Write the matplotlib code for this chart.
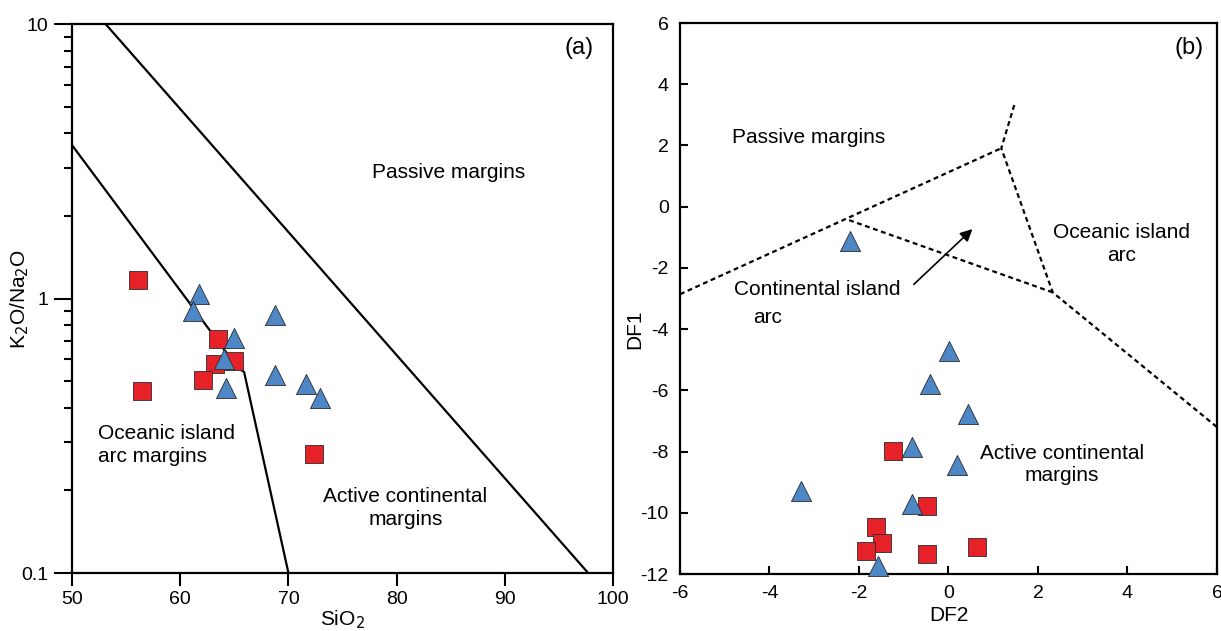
import numpy as np
import matplotlib.pyplot as plt
from matplotlib.ticker import LogLocator, NullFormatter, FixedLocator

plt.rcParams['font.family'] = ['Liberation Sans', 'DejaVu Sans']
plt.rcParams['axes.unicode_minus'] = False

# ── Panel (a) data: SiO2 vs K2O/Na2O ───────────────────────────
sq_sio2 = [56.1, 63.5, 63.2, 65.0, 62.1, 56.5, 72.4]
sq_ratio = [1.17, 0.715, 0.579, 0.594, 0.506, 0.462, 0.272]
tri_sio2 = [61.7, 61.2, 68.8, 65.0, 64.0, 68.8, 64.2, 71.6, 72.9]
tri_ratio = [1.04, 0.904, 0.874, 0.72, 0.604, 0.528, 0.474, 0.489, 0.435]

# boundary lines (a)
pm_x = [53.1, 97.7]
pm_y = [10.0, 0.1]
oi_x = [50.0, 65.3, 65.9, 70.0]
oi_y = [3.62, 0.56, 0.54, 0.1]

# ── Panel (b) data: DF2 vs DF1 ─────────────────────────────────
b_sq_df2 = [-1.24, -0.49, -1.62, -1.49, -1.84, -0.47, 0.64]
b_sq_df1 = [-7.99, -9.79, -10.47, -11.0, -11.26, -11.36, -11.13]
b_tri_df2 = [-2.2, 0.02, -0.42, 0.44, -0.82, 0.2, -0.82, -1.58, -3.3]
b_tri_df1 = [-1.13, -4.70, -5.80, -6.78, -7.86, -8.45, -9.72, -11.75, -9.30]

# field boundaries (b)
bnd_left = ([-6.0, 1.18], [-2.86, 1.91])
bnd_inner = ([-2.22, 2.33], [-0.44, -2.8])
bnd_top = ([1.47, 1.18, 2.33, 6.0], [3.32, 1.91, -2.8, -7.2])

RED = '#E62228'
BLUE = '#4D87C6'
EDGE = '#2B2B2B'
TXT = 15
TICK = 14
LAB = 15

fig = plt.figure(figsize=(12.21, 6.31), dpi=100)
ax1 = fig.add_axes([0.0590, 0.0919, 0.4431, 0.8700])
ax2 = fig.add_axes([0.5569, 0.0903, 0.4398, 0.8732])

# ── Panel (a) ───────────────────────────────────────────────────
ax1.plot(pm_x, pm_y, color='black', lw=1.6, zorder=2)
ax1.plot(oi_x, oi_y, color='black', lw=1.6, zorder=2)
ax1.scatter(sq_sio2, sq_ratio, marker='s', s=150, c=RED, edgecolors=EDGE,
            linewidths=0.6, zorder=3)
ax1.scatter(tri_sio2, tri_ratio, marker='^', s=210, c=BLUE, edgecolors=EDGE,
            linewidths=0.6, zorder=4)

ax1.set_yscale('log')
ax1.set_xlim(50, 100)
ax1.set_ylim(0.1, 10)
ax1.set_xticks([50, 60, 70, 80, 90, 100])
ax1.yaxis.set_major_locator(FixedLocator([0.1, 1, 10]))
ax1.set_yticklabels(['0.1', '1', '10'])
ax1.yaxis.set_minor_locator(LogLocator(base=10, subs=np.arange(2, 10)))
ax1.yaxis.set_minor_formatter(NullFormatter())
ax1.tick_params(axis='x', which='major', direction='out', length=9,
                width=1.5, labelsize=TICK, pad=4)
ax1.tick_params(axis='y', which='major', direction='out', length=13,
                width=1.5, labelsize=TICK, pad=4)
ax1.tick_params(axis='y', which='minor', direction='out', length=6, width=1.5)
ax1.set_xlabel(r'SiO$_2$', fontsize=LAB, labelpad=0)
ax1.set_ylabel(r'K$_2$O/Na$_2$O', fontsize=LAB)
ax1.yaxis.set_label_coords(-0.075, 0.5)

ax1.text(84.8, 2.88, 'Passive margins', fontsize=TXT, ha='center', va='center')
ax1.text(96.9, 8.2, '(a)', fontsize=17, ha='center', va='center')
ax1.text(52.4, 0.293, 'Oceanic island\narc margins', fontsize=TXT,
         ha='left', va='center', linespacing=1.25)
ax1.text(80.8, 0.173, 'Active continental\nmargins', fontsize=TXT,
         ha='center', va='center', linespacing=1.25)

# ── Panel (b) ───────────────────────────────────────────────────
dash = dict(color='black', lw=1.6, ls=(0, (2.2, 1.6)), zorder=2)
ax2.plot(*bnd_left, **dash)
ax2.plot(*bnd_inner, **dash)
ax2.plot(*bnd_top, **dash)
ax2.scatter(b_sq_df2, b_sq_df1, marker='s', s=150, c=RED, edgecolors=EDGE,
            linewidths=0.6, zorder=3)
ax2.scatter(b_tri_df2, b_tri_df1, marker='^', s=210, c=BLUE, edgecolors=EDGE,
            linewidths=0.6, zorder=4, clip_on=False)

ax2.annotate('', xy=(0.58, -0.67), xytext=(-0.82, -2.6),
             arrowprops=dict(arrowstyle='-|>', color='black', lw=1.2,
                             mutation_scale=18), zorder=5)

ax2.set_xlim(-6, 6)
ax2.set_ylim(-12, 6)
ax2.set_xticks(np.arange(-6, 7, 2))
ax2.set_yticks(np.arange(-12, 7, 2))
ax2.tick_params(axis='both', direction='in', length=6, width=1.5,
                labelsize=TICK, pad=8)
ax2.set_xlabel('DF2', fontsize=LAB, labelpad=3)
ax2.set_ylabel('DF1', fontsize=LAB)
ax2.yaxis.set_label_coords(-0.066, 0.444)

ax2.text(-3.13, 2.27, 'Passive margins', fontsize=TXT, ha='center', va='center')
ax2.text(5.38, 5.2, '(b)', fontsize=17, ha='center', va='center')
ax2.text(3.87, -1.23, 'Oceanic island\narc', fontsize=TXT, ha='center',
         va='center', linespacing=1.25)
ax2.text(-2.93, -2.70, 'Continental island', fontsize=TXT, ha='center',
         va='center')
ax2.text(-4.04, -3.61, 'arc', fontsize=TXT, ha='center', va='center')
ax2.text(2.53, -8.42, 'Active continental\nmargins', fontsize=TXT,
         ha='center', va='center', linespacing=1.25)

for a in (ax1, ax2):
    for s in a.spines.values():
        s.set_linewidth(1.6)

fig.savefig('out.png', dpi=100, facecolor='white')
